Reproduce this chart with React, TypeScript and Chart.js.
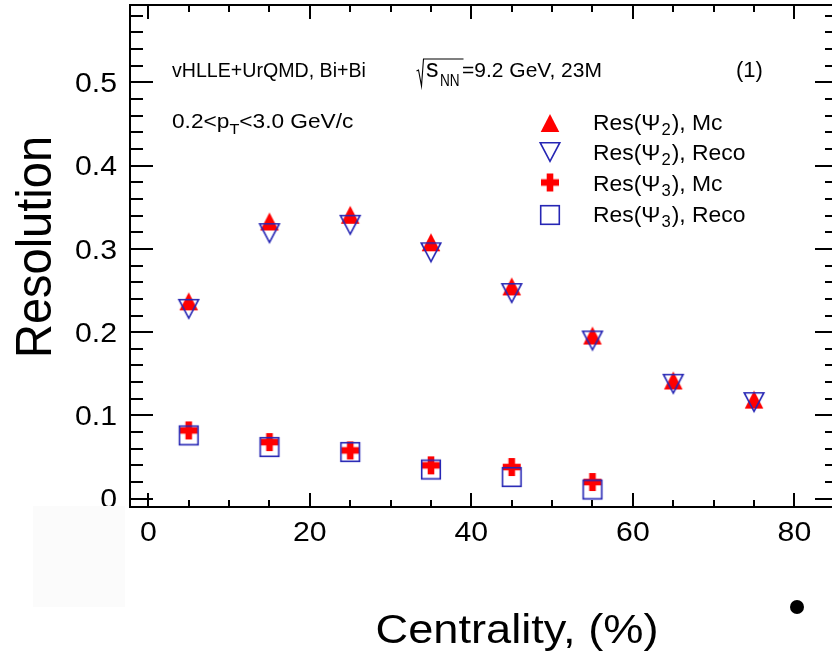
import React, { useEffect, useRef } from "react";
import { Chart, registerables } from "chart.js";

Chart.register(...registerables);

// ---- data ----
const centrality = [5, 15, 25, 35, 45, 55, 65, 75];
const centralityPsi3 = [5, 15, 25, 35, 45, 55];
const resPsi2Mc = [0.237, 0.333, 0.341, 0.308, 0.255, 0.196, 0.142, 0.119];
const resPsi2Reco = [0.228, 0.319, 0.329, 0.296, 0.247, 0.19, 0.138, 0.116];
const resPsi3Mc = [0.082, 0.068, 0.058, 0.04, 0.038, 0.02];
const resPsi3Reco = [0.076, 0.062, 0.056, 0.035, 0.026, 0.011];

const xTickValues = [0, 20, 40, 60, 80];
const xTickLabels = ["0", "20", "40", "60", "80"];
const yTickValues = [0, 0.1, 0.2, 0.3, 0.4, 0.5];
const yTickLabels = ["0", "0.1", "0.2", "0.3", "0.4", "0.5"];

const legendMain = ["Res(\u03A8", "Res(\u03A8", "Res(\u03A8", "Res(\u03A8"];
const legendSub = ["2", "2", "3", "3"];
const legendTail = ["), Mc", "), Reco", "), Mc", "), Reco"];

const xTitle = "Centrality, (%)";
const yTitle = "Resolution";

const W = 850;
const H = 659;
const FONT = "'Liberation Sans', Arial, Helvetica, sans-serif";
const RED = "#ff0000";
const BLUE = "#2626b4";

type Kind = "triUp" | "triDown" | "cross" | "square";

function makeMarker(kind: Kind): HTMLCanvasElement {
  const s = 26;
  const c = document.createElement("canvas");
  c.width = s;
  c.height = s;
  const ctx = c.getContext("2d")!;
  const m = s / 2;
  ctx.lineWidth = 1.6;
  if (kind === "triUp") {
    ctx.fillStyle = RED;
    ctx.beginPath();
    ctx.moveTo(m - 9.3, m + 9);
    ctx.lineTo(m + 9.3, m + 9);
    ctx.lineTo(m, m - 9);
    ctx.closePath();
    ctx.fill();
  } else if (kind === "triDown") {
    ctx.strokeStyle = BLUE;
    ctx.beginPath();
    ctx.moveTo(m - 9.8, m - 9.3);
    ctx.lineTo(m + 9.8, m - 9.3);
    ctx.lineTo(m, m + 9.3);
    ctx.closePath();
    ctx.stroke();
  } else if (kind === "cross") {
    ctx.fillStyle = RED;
    ctx.fillRect(m - 9, m - 3.3, 18, 6.6);
    ctx.fillRect(m - 3.3, m - 9, 6.6, 18);
  } else {
    ctx.strokeStyle = BLUE;
    ctx.strokeRect(m - 9.3, m - 9.3, 18.6, 18.6);
  }
  return c;
}

function txt(
  ctx: CanvasRenderingContext2D,
  s: string,
  x: number,
  y: number,
  size: number,
  sx = 1,
  align: CanvasTextAlign = "left"
) {
  ctx.save();
  ctx.font = `${size}px ${FONT}`;
  ctx.textAlign = align;
  ctx.textBaseline = "alphabetic";
  ctx.fillStyle = "#000";
  ctx.translate(x, y);
  ctx.scale(sx, 1);
  ctx.fillText(s, 0, 0);
  ctx.restore();
}

function width(ctx: CanvasRenderingContext2D, s: string, size: number, sx = 1) {
  ctx.save();
  ctx.font = `${size}px ${FONT}`;
  const w = ctx.measureText(s).width * sx;
  ctx.restore();
  return w;
}

export default function App() {
  const ref = useRef<HTMLCanvasElement | null>(null);

  useEffect(() => {
    if (!ref.current) return;
    const markers = {
      triUp: makeMarker("triUp"),
      triDown: makeMarker("triDown"),
      cross: makeMarker("cross"),
      square: makeMarker("square"),
    };
    const legendMarkers = [markers.triUp, markers.triDown, markers.cross, markers.square];

    const decor = {
      id: "rootStyle",
      afterDraw(chart: any) {
        const ctx: CanvasRenderingContext2D = chart.ctx;
        const a = chart.chartArea;
        const xs = chart.scales.x;
        const ys = chart.scales.y;
        ctx.save();
        ctx.strokeStyle = "#000";
        ctx.lineWidth = 2;
        // frame
        ctx.strokeRect(a.left, a.top, a.right - a.left, a.bottom - a.top);
        // x ticks (bottom and top)
        ctx.beginPath();
        for (let v = 0; v <= xs.max; v += 5) {
          const px = Math.round(xs.getPixelForValue(v));
          const major = v % 20 === 0;
          const len = major ? 14 : 7;
          ctx.moveTo(px, a.bottom);
          ctx.lineTo(px, a.bottom - len);
          ctx.moveTo(px, a.top);
          ctx.lineTo(px, a.top + len);
        }
        // y ticks (left and right)
        for (let i = 0; i * 0.02 <= ys.max; i++) {
          const v = i * 0.02;
          const py = Math.round(ys.getPixelForValue(v));
          const major = i % 5 === 0;
          const len = major ? 23 : 13;
          ctx.moveTo(a.left, py);
          ctx.lineTo(a.left + len, py);
          ctx.moveTo(a.right, py);
          ctx.lineTo(a.right - len, py);
        }
        ctx.stroke();

        // tick labels
        xTickValues.forEach((v, i) => {
          txt(ctx, xTickLabels[i], xs.getPixelForValue(v), a.bottom + 34, 27, 1.12, "center");
        });
        yTickValues.forEach((v, i) => {
          txt(ctx, yTickLabels[i], a.left - 13, ys.getPixelForValue(v) + 9.6, 27, 1.12, "right");
        });

        // axis titles
        txt(ctx, xTitle, 517, 643, 40, 1.13, "center");
        ctx.save();
        ctx.translate(51, 247);
        ctx.rotate(-Math.PI / 2);
        ctx.scale(0.94, 1);
        ctx.font = `50px ${FONT}`;
        ctx.textAlign = "center";
        ctx.fillStyle = "#000";
        ctx.fillText(yTitle, 0, 0);
        ctx.restore();

        // header line 1
        txt(ctx, "vHLLE+UrQMD, Bi+Bi", 172, 77, 20, 0.98);
        ctx.beginPath();
        ctx.lineWidth = 1.1;
        ctx.moveTo(416.5, 71);
        ctx.lineTo(418.5, 70);
        ctx.lineTo(421.5, 86);
        ctx.lineTo(423.5, 59);
        ctx.lineTo(463.5, 59);
        ctx.stroke();
        txt(ctx, "s", 426, 77, 25, 1.0);
        txt(ctx, "NN", 440, 86, 16, 0.85);
        txt(ctx, "=9.2 GeV, 23M", 462, 77, 21, 1.0);
        txt(ctx, "(1)", 736, 77, 22, 1.0);

        // header line 2
        let x = 172;
        const s2 = 1.08;
        txt(ctx, "0.2<p", x, 128, 21, s2);
        x += width(ctx, "0.2<p", 21, s2);
        txt(ctx, "T", x, 134, 15, s2);
        x += width(ctx, "T", 15, s2);
        txt(ctx, "<3.0 GeV/c", x, 128, 21, s2);

        // legend
        const rowsY = [129.5, 160.3, 191.2, 222];
        const markY = [123, 152, 182.5, 215];
        for (let i = 0; i < 4; i++) {
          const m = legendMarkers[i];
          ctx.drawImage(m, 550 - m.width / 2, markY[i] - m.height / 2);
          let lx = 593;
          const ls = 1.04;
          txt(ctx, legendMain[i], lx, rowsY[i], 22, ls);
          lx += width(ctx, legendMain[i], 22, ls) + 1;
          txt(ctx, legendSub[i], lx, rowsY[i] + 5, 16, ls);
          lx += width(ctx, legendSub[i], 16, ls) + 1;
          txt(ctx, legendTail[i], lx, rowsY[i], 22, ls);
        }

        // slide decorations
        ctx.fillStyle = "#fbfbfb";
        ctx.fillRect(33, 506, 92, 101);
        ctx.fillStyle = "#000";
        ctx.beginPath();
        ctx.arc(797, 607, 7, 0, Math.PI * 2);
        ctx.fill();
        ctx.restore();
      },
    };

    const toPts = (xsArr: number[], ysArr: number[]) => xsArr.map((v, i) => ({ x: v, y: ysArr[i] }));

    const chart = new Chart(ref.current, {
      type: "scatter",
      data: {
        datasets: [
          { label: "Res(Psi2), Mc", data: toPts(centrality, resPsi2Mc), pointStyle: markers.triUp as any, order: 3 },
          { label: "Res(Psi2), Reco", data: toPts(centrality, resPsi2Reco), pointStyle: markers.triDown as any, order: 2 },
          { label: "Res(Psi3), Mc", data: toPts(centralityPsi3, resPsi3Mc), pointStyle: markers.cross as any, order: 1 },
          { label: "Res(Psi3), Reco", data: toPts(centralityPsi3, resPsi3Reco), pointStyle: markers.square as any, order: 0 },
        ] as any,
      },
      options: {
        animation: false,
        responsive: false,
        events: [],
        layout: { padding: { left: 130, top: 5, right: W - 838, bottom: H - 507 } },
        plugins: { legend: { display: false }, tooltip: { enabled: false } },
        scales: {
          x: { type: "linear", display: false, min: -2.27, max: 85.4 },
          y: { type: "linear", display: false, min: -0.01, max: 0.593 },
        },
      } as any,
      plugins: [decor],
    });
    return () => chart.destroy();
  }, []);

  return (
    <div
      style={{
        position: "absolute",
        left: 0,
        top: 0,
        width: 832,
        height: 659,
        overflow: "hidden",
        background: "#fff",
      }}
    >
      <canvas ref={ref} width={W} height={H} style={{ display: "block" }} />
    </div>
  );
}
